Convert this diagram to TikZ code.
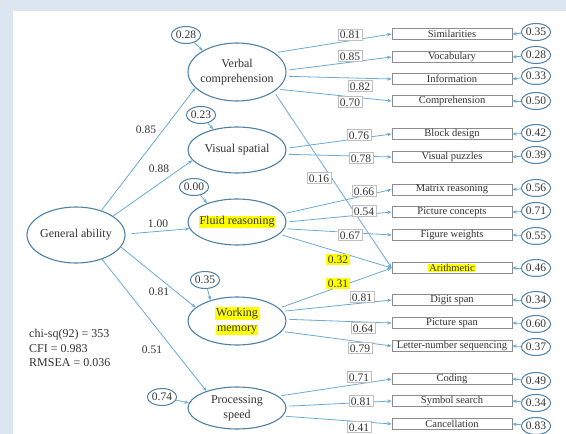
\documentclass[tikz,border=0pt]{standalone}
\usepackage{fontspec}
\setmainfont{Liberation Serif}
\usetikzlibrary{shapes.geometric,arrows.meta}
\definecolor{bgblue}{HTML}{DCE6F1}
\definecolor{edgeblue}{HTML}{6AAAD6}
\definecolor{ellblue}{HTML}{4F81A8}
\definecolor{txt}{HTML}{333333}
\definecolor{hlyellow}{HTML}{FFFF00}
\definecolor{lblgray}{HTML}{BFBFBF}
\definecolor{boxgray}{HTML}{8C8C8C}
\newcommand{\hlbox}[1]{{\setlength{\fboxsep}{0.8pt}\colorbox{hlyellow}{#1}}}
\begin{document}
\begin{tikzpicture}[x=1pt,y=-1pt,
 latent/.style={ellipse, draw=ellblue, line width=1.1pt, minimum width=98pt, inner sep=0pt},
 ltext/.style={inner sep=0pt, text=txt, font=\fontsize{12}{15}\selectfont, align=center},
 ind/.style={rectangle, draw=boxgray, line width=0.6pt, fill=white, minimum width=120pt, minimum height=11pt, inner sep=0pt, text=txt, font=\fontsize{10.5}{12}\selectfont},
 err/.style={ellipse, draw=ellblue, line width=1pt, inner sep=0.3pt, minimum width=28pt, minimum height=17pt, text=txt, font=\fontsize{11.5}{13}\selectfont},
 lbl/.style={rectangle, draw=lblgray, line width=0.6pt, fill=white, inner xsep=2pt, inner ysep=1.5pt, text height=8pt, text depth=0pt, text=txt, font=\fontsize{11.5}{13}\selectfont},
 hl/.style={lbl, draw=none, fill=hlyellow},
 plain/.style={inner sep=0pt, text=txt, font=\fontsize{11.5}{13}\selectfont},
 arr/.style={draw=edgeblue, line width=0.8pt, -{Stealth[length=4.5pt,width=3.5pt]}},
 load/.style={arr, shorten <=3pt},
]
% background
\fill[bgblue] (0,0) rectangle (566,434);
\fill[white] (13,11) rectangle (566,434);
\useasboundingbox (0,0) rectangle (566,434);

% latent variables
\node[latent, minimum height=56pt] (ga) at (76,235) {};
\node[ltext] (gat) at (ga) {General ability};
\node[latent, minimum height=58pt] (vc) at (237,72) {};
\node[ltext] (vct) at (vc) {Verbal\\comprehension};
\node[latent, minimum height=46pt] (vs) at (237,150) {};
\node[ltext] (vst) at (vs) {Visual spatial};
\node[latent, minimum height=46pt] (fr) at (237,222) {};
\node[ltext] (frt) at (fr) {\hlbox{Fluid reasoning}};
\node[latent, minimum height=48pt] (wm) at (237,321) {};
\node[ltext] (wmt) at (wm) {\hlbox{Working}\\[0.4pt]\hlbox{memory}};
\node[latent, minimum height=42pt] (ps) at (237,408) {};
\node[ltext] (pst) at (ps) {Processing\\speed};

% latent residuals
\node[err] (r1) at (186,35) {0.28};
\node[err] (r2) at (201,115) {0.23};
\node[err] (r3) at (194,187) {0.00};
\node[err] (r4) at (205,280) {0.35};
\node[err] (r5) at (162,397) {0.74};

% indicators
\foreach \n/\y/\t in {b1/34/Similarities, b2/57/Vocabulary, b3/79/Information, b4/101/Comprehension,
  b5/134/Block design, b6/157/Visual puzzles, b7/189.5/Matrix reasoning, b8/212/Picture concepts,
  b9/235/Figure weights, b11/300/Digit span, b12/323/Picture span,
  b13/346/Letter-number sequencing, b14/379/Coding, b15/401/Symbol search, b16/424/Cancellation}
  \node[ind] (\n) at (452,\y) {\t};
\node[ind] (b10) at (452,268) {\hlbox{Arithmetic}};

% indicator errors
\foreach \n/\y/\t in {e1/32/0.35, e2/55/0.28, e3/76/0.33, e4/101/0.50, e5/133/0.42, e6/155/0.39,
  e7/188/0.56, e8/211/0.71, e9/236/0.55, e10/268/0.46, e11/300/0.34, e12/324/0.60,
  e13/347/0.37, e14/381/0.49, e15/403/0.34, e16/426/0.83}
  \node[err] (\n) at (536,\y) {\t};
\foreach \i in {1,...,16}
  \draw[arr] (e\i) -- (b\i.east);

% residual arrows
\draw[arr] (r1) -- (vc.148);
\draw[arr] (r2) -- (vs.139);
\draw[arr] (r3) -- (fr.148);
\draw[arr] (r4) -- (wm.142);
\draw[arr] (r5) -- (ps.174);

% general ability paths
\draw[arr] (ga.44) -- (vc.201);
\draw[arr] (ga.27) -- (vs.193);
\draw[arr, shorten <=6pt] (ga.1) -- (fr.188);
\draw[arr] (ga.-15) -- (wm.162);
\draw[arr] (ga.-43) -- (ps.151);
\node[plain] (g1) at (146,130) {0.85};
\node[plain] (g2) at (159,169) {0.88};
\node[plain] (g3) at (158,224) {1.00};
\node[plain] (g4) at (159,292) {0.81};
\node[plain] (g5) at (152,350) {0.51};

% loadings
\draw[load] (vc.27) -- (b1.west);
\draw[load] (vc.2) -- (b2.west);
\draw[load] (vc.-5) -- (b3.west);
\draw[load] (vc.-23) -- (b4.west);
\draw[load] (vc.-28) -- (b10.west);
\draw[load] (vs.2) -- (b5.west);
\draw[load] (vs.-5) -- (b6.west);
\draw[load] (fr.10) -- (b7.west);
\draw[load] (fr.0) -- (b8.west);
\draw[load] (fr.-8) -- (b9.west);
\draw[load] (fr.-16) -- (b10.west);
\draw[load] (wm.17) -- (b10.west);
\draw[load] (wm.12) -- (b11.west);
\draw[load] (wm.2) -- (b12.west);
\draw[load] (wm.-13) -- (b13.west);
\draw[load] (ps.16) -- (b14.west);
\draw[load] (ps.2) -- (b15.west);
\draw[load] (ps.-10) -- (b16.west);

% loading labels
\node[lbl] (l1) at (350,34.5) {0.81};
\node[lbl] (l2) at (350,56) {0.85};
\node[lbl] (l3) at (360,86) {0.82};
\node[lbl] (l4) at (350,102) {0.70};
\node[lbl] (l5) at (359,135) {0.76};
\node[lbl] (l6) at (361,158) {0.78};
\node[lbl] (l7) at (319,178) {0.16};
\node[lbl] (l8) at (364,191) {0.66};
\node[lbl] (l9) at (364,211) {0.54};
\node[lbl] (l10) at (350,235) {0.67};
\node[hl] (l11) at (338,259) {0.32};
\node[hl] (l12) at (338,283) {0.31};
\node[lbl] (l13) at (362,297) {0.81};
\node[lbl] (l14) at (363,328) {0.64};
\node[lbl] (l15) at (360,348) {0.79};
\node[lbl] (l16) at (359,377) {0.71};
\node[lbl] (l17) at (361,401) {0.81};
\node[lbl] (l18) at (359,427) {0.41};

% fit statistics
\node[plain, anchor=west, align=left, font=\fontsize{12}{14.5}\selectfont] (fit) at (29,348)
  {chi-sq(92) = 353\\CFI = 0.983\\RMSEA = 0.036};
\end{tikzpicture}
\end{document}
